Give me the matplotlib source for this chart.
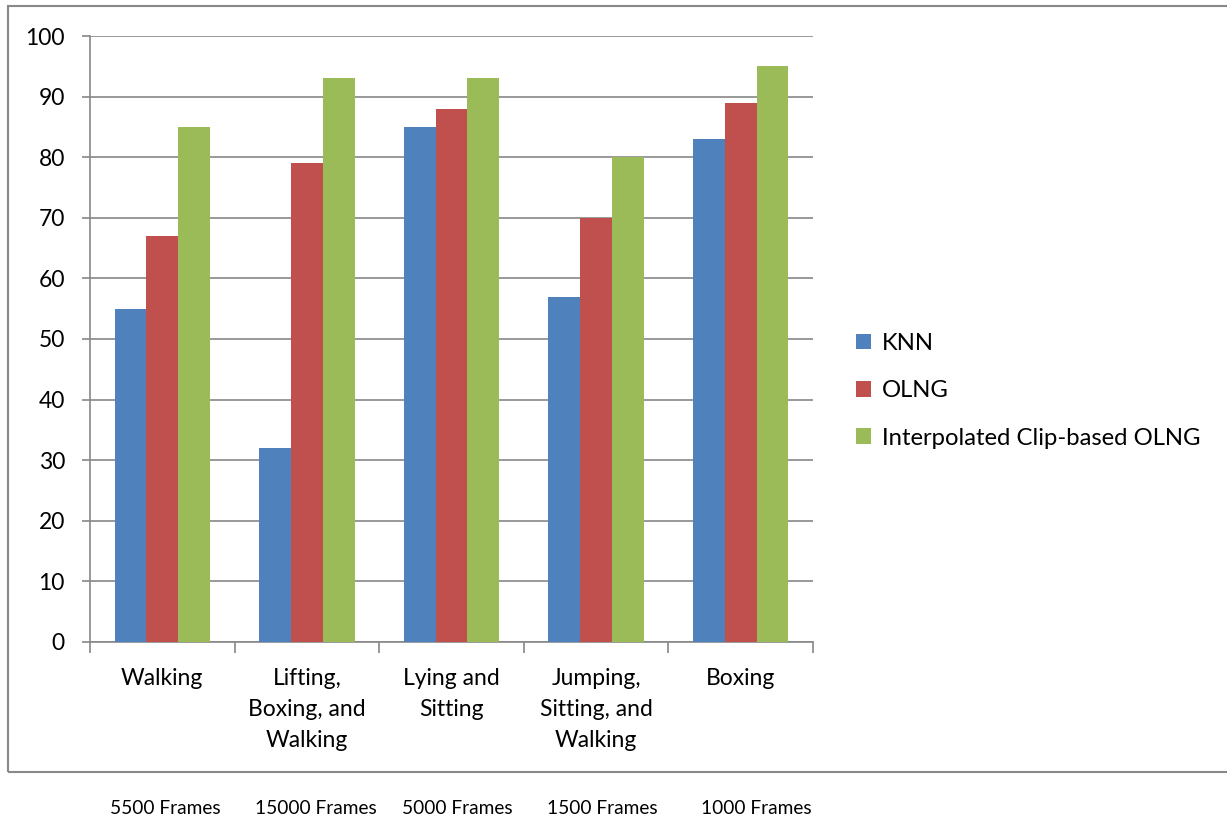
import matplotlib.pyplot as plt
import matplotlib.transforms as mtransforms
from matplotlib.patches import Rectangle
import numpy as np

plt.rcParams['font.family'] = ['Lato', 'DejaVu Sans']

categories = ['Walking', 'Lifting,\nBoxing, and\nWalking', 'Lying and\nSitting',
              'Jumping,\nSitting, and\nWalking', 'Boxing']
frames = ['5500 Frames', '15000 Frames', '5000 Frames', '1500 Frames', '1000 Frames']
frame_offsets = [0.02, 0.06, 0.04, 0.04, 0.11]
knn = [55, 32, 85, 57, 83]
olng = [67, 79, 88, 70, 89]
interp = [85, 93, 93, 80, 95]

series = [('KNN', knn, '#4F81BD'),
          ('OLNG', olng, '#C0504D'),
          ('Interpolated Clip-based OLNG', interp, '#9BBB59')]

fig = plt.figure(figsize=(12.27, 8.22), dpi=100)
ax = fig.add_axes([0.0733, 0.2190, 0.5893, 0.7372])

x = np.arange(len(categories))
w = 0.22
for i, (name, vals, col) in enumerate(series):
    ax.bar(x + (i - 1) * w, vals, w, color=col, label=name, zorder=3)

ax.set_xlim(-0.5, len(categories) - 0.5)
ax.set_ylim(0, 100)
ax.set_yticks(range(0, 101, 10))
ax.yaxis.grid(True, color='#888888', linewidth=1.2, zorder=0)
ax.set_axisbelow(True)

for s in ['top', 'right']:
    ax.spines[s].set_visible(False)
for s in ['left', 'bottom']:
    ax.spines[s].set_color('#888888')
    ax.spines[s].set_linewidth(1.2)

# category labels centered, tick marks on the boundaries
ax.set_xticks(x)
ax.set_xticklabels(categories, fontsize=16.5, linespacing=1.57, va='top')
ax.tick_params(axis='x', length=0, pad=19)
ax.set_xticks(np.arange(-0.5, len(categories)), minor=True)
ax.tick_params(axis='x', which='minor', length=8, color='#888888', width=1.2)
ax.tick_params(axis='y', length=6, color='#888888', width=1.2, labelsize=16.5, pad=12)

# frame counts under the chart box
trans = mtransforms.blended_transform_factory(ax.transData, fig.transFigure)
for xi, (lab, off) in enumerate(zip(frames, frame_offsets)):
    ax.text(xi + off, 0.016, lab, transform=trans, ha='center', va='center', fontsize=13.8)

ax.legend(loc='center left', bbox_to_anchor=(0.6805, 0.5245), bbox_transform=fig.transFigure,
          frameon=False, fontsize=17.2, handlelength=0.62, handleheight=0.62,
          labelspacing=1.1, handletextpad=0.45)

# outer chart box
fig.patches.append(Rectangle((8 / 1227, 1 - 772 / 822), 1.0, (772 - 6) / 822,
                             transform=fig.transFigure, fill=False,
                             edgecolor='#888888', linewidth=1.5))

fig.savefig('out.png', dpi=100)
